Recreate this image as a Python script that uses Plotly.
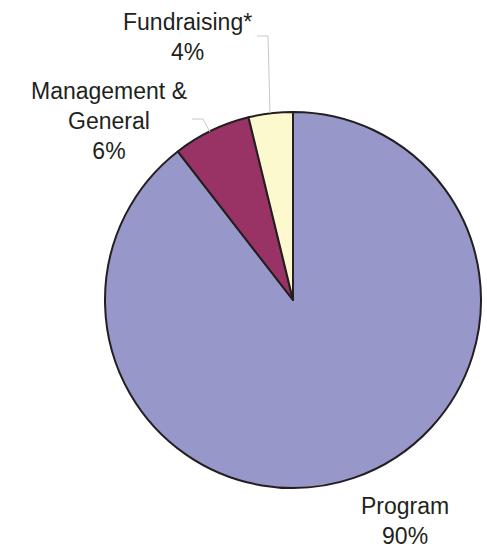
import plotly.graph_objects as go

categories = ["Program", "Management &<br>General", "Fundraising*"]
values = [89.5, 6.7, 3.8]
pct_labels = ["90%", "6%", "4%"]
colors = ["#9797C9", "#993366", "#FDF9CF"]

W, H = 487, 548
cx, cy, r = 293, 300, 188

fig = go.Figure(go.Pie(
    labels=categories,
    values=values,
    sort=False,
    direction="clockwise",
    rotation=0,
    textinfo="none",
    hoverinfo="label+percent",
    marker=dict(colors=colors, line=dict(color="#231F20", width=2)),
    domain=dict(x=[(cx - r) / W, (cx + r) / W], y=[(H - cy - r) / H, (H - cy + r) / H]),
    showlegend=False,
))

def px(x):
    return x / W

def py(y):
    return 1 - y / H

label_pos = [(405, 521), (109, 121), (187, 37)]
for cat, pct, (x, y) in zip(categories, pct_labels, label_pos):
    fig.add_annotation(x=px(x), y=py(y), xref="paper", yref="paper",
                       text=f"{cat}<br>{pct}", showarrow=False,
                       xanchor="center", yanchor="middle",
                       font=dict(family="Liberation Sans, Arial, sans-serif", size=23, color="#231F20"))

# leader lines
leaders = [
    [(257, 36), (268, 36), (270, 113)],
    [(192, 119), (203, 119), (210, 132)],
]
for pts in leaders:
    path = "M " + " L ".join(f"{px(x)} {py(y)}" for x, y in pts)
    fig.add_shape(type="path", path=path, xref="paper", yref="paper",
                  line=dict(color="#C8C8C8", width=1))

fig.update_layout(width=W, height=H, margin=dict(l=0, r=0, t=0, b=0),
                  paper_bgcolor="white", plot_bgcolor="white")
fig.write_html("out.html", config={"displayModeBar": False},
               post_script="document.body.style.margin='0';document.body.style.overflow='hidden';")
